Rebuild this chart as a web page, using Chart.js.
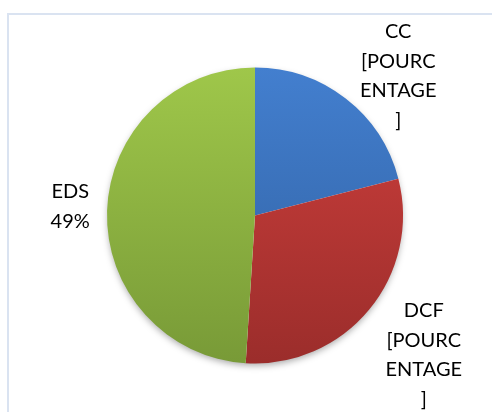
<!DOCTYPE html>
<html>
<head>
<meta charset="utf-8">
<script src="https://cdn.jsdelivr.net/npm/chart.js@4"></script>
<style>
  html, body { margin: 0; padding: 0; background: #fff; }
  #wrap { position: relative; width: 492px; height: 412px; overflow: hidden; }
  #frame { position: absolute; left: 7px; top: 13px; width: 600px; height: 600px;
           border-left: 2px solid #dae3f1; border-top: 2px solid #dae3f1; }
  canvas { position: absolute; left: 0; top: 0; }
</style>
</head>
<body>
<div id="wrap">
  <div id="frame"></div>
  <canvas id="pieChart" width="492" height="412"></canvas>
</div>
<script>
// Données du graphique
const categories = ['CC', 'DCF', 'EDS'];
const valeurs = [21, 30, 49];
// Texte des étiquettes tel qu'affiché (Excel n'a pas rempli le champ pourcentage)
const etiquettes = [
  ['CC', '[POURC', 'ENTAGE', ']'],
  ['DCF', '[POURC', 'ENTAGE', ']'],
  ['EDS', '49%']
];

// Couleurs (haut / bas du dégradé)
const couleursHaut = ['#437fcf', '#d0403d', '#9fc74a'];
const couleursBas = ['#2f5f9f', '#9b2d2b', '#789a37'];
// Position des étiquettes : distance relative au rayon, décalage d'angle (degrés)
const distEtiq = [1.35, 1.48, 1.25];
const decalAngle = [8, 0, 1];

function degrade(context) {
  const chart = context.chart;
  const area = chart.chartArea;
  if (!area) return couleursHaut[context.dataIndex];
  const g = chart.ctx.createLinearGradient(0, area.top, 0, area.bottom);
  g.addColorStop(0, couleursHaut[context.dataIndex]);
  g.addColorStop(1, couleursBas[context.dataIndex]);
  return g;
}

// Ombre sous le disque
const ombrePlugin = {
  id: 'ombre',
  beforeDatasetsDraw(chart) {
    const arc = chart.getDatasetMeta(0).data[0];
    if (!arc) return;
    const ctx = chart.ctx;
    ctx.save();
    ctx.shadowColor = 'rgba(0,0,0,0.35)';
    ctx.shadowBlur = 7;
    ctx.shadowOffsetY = 3;
    ctx.fillStyle = '#fff';
    ctx.beginPath();
    ctx.arc(arc.x, arc.y, arc.outerRadius - 1, 0, Math.PI * 2);
    ctx.fill();
    ctx.restore();
  }
};

// Étiquettes de données à l'extérieur
const etiquettesPlugin = {
  id: 'etiquettes',
  afterDatasetsDraw(chart) {
    const ctx = chart.ctx;
    const meta = chart.getDatasetMeta(0);
    ctx.save();
    ctx.font = '20px Lato';
    ctx.fillStyle = '#000';
    ctx.textAlign = 'center';
    ctx.textBaseline = 'middle';
    const hLigne = 29.5;
    meta.data.forEach((arc, i) => {
      const mid = (arc.startAngle + arc.endAngle) / 2 + decalAngle[i] * Math.PI / 180;
      const r = arc.outerRadius * distEtiq[i];
      const cx = arc.x + Math.cos(mid) * r;
      const cy = arc.y + Math.sin(mid) * r;
      const lignes = etiquettes[i];
      const y0 = cy - (lignes.length - 1) * hLigne / 2;
      lignes.forEach((t, k) => ctx.fillText(t, cx, y0 + k * hLigne));
    });
    ctx.restore();
  }
};

const config = {
  type: 'pie',
  data: {
    labels: categories,
    datasets: [{
      data: valeurs,
      backgroundColor: degrade,
      borderWidth: 0
    }]
  },
  options: {
    responsive: false,
    animation: false,
    layout: { padding: { left: 107, right: 89, top: 67, bottom: 48 } },
    plugins: {
      legend: { display: false },
      tooltip: { enabled: false }
    }
  },
  plugins: [ombrePlugin, etiquettesPlugin]
};

new Chart(document.getElementById('pieChart').getContext('2d'), config);
</script>
</body>
</html>
